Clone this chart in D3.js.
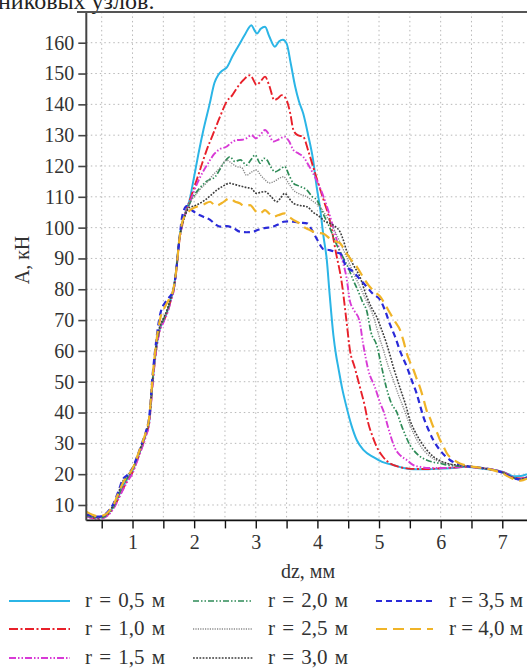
<!DOCTYPE html>
<html><head><meta charset="utf-8">
<script src="https://cdn.jsdelivr.net/npm/d3@7"></script>
<style>
html,body{margin:0;padding:0;background:#fff;overflow:hidden;}
svg{display:block;}
svg text{font-family:"Liberation Serif","Times New Roman","DejaVu Serif",serif !important;}
</style></head>
<body>
<svg id="c" width="527" height="671"></svg>
<script>
// ---------- data ----------
const xTicks = [0.5,1,1.5,2,2.5,3,3.5,4,4.5,5,5.5,6,6.5,7];
const xTickLabels = ["","1","","2","","3","","4","","5","","6","","7"];
const yTicks = [10,20,30,40,50,60,70,80,90,100,110,120,130,140,150,160];
const seriesNames = ["r = 0,5 м","r = 1,0 м","r = 1,5 м","r = 2,0 м","r = 2,5 м","r = 3,0 м","r = 3,5 м","r = 4,0 м"];

const r05 = [[0.25,6.8],[0.35,6.1],[0.45,5.9],[0.55,6.4],[0.62,7.6],[0.7,9.8],[0.78,13.2],[0.85,16.2],[0.92,18.6],[1.0,21.2],[1.08,25.2],[1.16,29.6],[1.22,33.2],[1.27,37],[1.33,51],[1.38,60.2],[1.43,66.2],[1.5,69.8],[1.57,73.2],[1.62,76.8],[1.67,80.5],[1.71,86.5],[1.76,96.5],[1.81,101.8],[1.86,105],[1.92,108.5],[1.99,115.5],[2.07,124],[2.15,131.7],[2.25,140],[2.33,147],[2.39,149.5],[2.46,151],[2.53,152],[2.62,155.5],[2.72,159],[2.82,162.5],[2.93,165.7],[2.98,164],[3.02,163],[3.08,164.5],[3.15,165.2],[3.22,162],[3.31,158.7],[3.38,160.5],[3.44,161],[3.5,159.8],[3.57,153],[3.64,145.7],[3.7,141],[3.77,137],[3.85,130],[3.93,122],[3.99,113],[4.04,106.8],[4.1,97],[4.15,90],[4.2,78],[4.26,65],[4.3,59],[4.34,54.5],[4.4,48],[4.47,42],[4.55,36],[4.64,31],[4.75,27.8],[4.91,25.5],[5.05,24],[5.23,23],[5.4,22],[5.56,21.6],[5.8,21.6],[6.0,21.8],[6.2,22],[6.4,22.4],[6.6,22.0],[6.85,21.4],[7.0,20.8],[7.1,20],[7.18,19.3],[7.3,19.4],[7.4,20]];
const r10 = [[0.25,6.5],[0.35,5.8],[0.45,5.6],[0.55,6.1],[0.62,7.2],[0.7,9.3],[0.78,12.6],[0.85,15.4],[0.92,18.0],[1.0,20.6],[1.08,24.8],[1.16,29.2],[1.22,32.8],[1.27,36.6],[1.33,50.5],[1.38,59.8],[1.43,65.8],[1.5,69.5],[1.57,72.8],[1.62,76.3],[1.67,80],[1.71,86],[1.76,96],[1.81,101.2],[1.86,104.8],[1.92,108.3],[2.0,113],[2.1,119],[2.2,125],[2.3,130],[2.42,136],[2.53,141],[2.62,143],[2.69,145.2],[2.8,147.9],[2.91,149.5],[2.96,148],[3.01,146.3],[3.08,147.5],[3.15,149],[3.22,146],[3.3,141.4],[3.36,142],[3.42,143],[3.5,141.4],[3.56,137],[3.61,131.7],[3.68,130],[3.77,129.5],[3.85,125],[3.93,119.8],[4.02,114],[4.1,109],[4.2,102.5],[4.3,92],[4.4,81.5],[4.47,70],[4.53,60],[4.6,55],[4.68,49],[4.77,42],[4.82,37],[4.9,32],[4.96,29],[5.07,25.5],[5.18,23.5],[5.3,22.5],[5.45,21.9],[5.6,21.7],[5.8,21.7],[6.0,21.9],[6.2,22.1],[6.4,22.4],[6.6,22.1],[6.85,21.4],[7.0,20.7],[7.1,19.8],[7.2,18.8],[7.3,18.6],[7.4,19.2]];
const r15 = [[0.25,6.4],[0.35,5.7],[0.45,5.5],[0.55,6.0],[0.62,7.0],[0.7,9.1],[0.78,12.3],[0.85,15.1],[0.92,17.7],[1.0,20.3],[1.08,24.5],[1.16,28.9],[1.22,32.5],[1.27,36.3],[1.33,50],[1.38,59.5],[1.43,65.5],[1.5,69.2],[1.57,72.6],[1.62,76],[1.67,79.8],[1.71,85.7],[1.76,95.7],[1.81,101],[1.86,104.6],[1.92,107.5],[2.0,112],[2.1,116.5],[2.23,121],[2.33,124],[2.42,125.5],[2.53,126.3],[2.6,127.5],[2.69,128.4],[2.78,128.5],[2.85,129],[2.93,130],[3.0,129],[3.07,130],[3.15,131.7],[3.22,130],[3.28,127.9],[3.36,128.5],[3.47,129.5],[3.54,128],[3.61,125.2],[3.7,124],[3.77,123],[3.85,120.5],[3.93,117.6],[4.02,114],[4.1,110],[4.2,104],[4.3,97],[4.38,91],[4.47,84],[4.53,76],[4.6,73],[4.68,70],[4.74,62.5],[4.83,53.5],[4.93,48.4],[5.02,43],[5.08,40],[5.15,35],[5.26,28.4],[5.35,26],[5.45,24.6],[5.55,23],[5.66,22.4],[5.8,22],[6.0,22],[6.2,22.2],[6.4,22.5],[6.6,22.1],[6.85,21.5],[7.0,20.7],[7.1,19.7],[7.2,18.7],[7.3,18.5],[7.4,19.1]];
const r20 = [[0.25,6.6],[0.35,6.0],[0.45,5.8],[0.55,6.3],[0.62,7.5],[0.7,9.7],[0.78,13.4],[0.85,16.8],[0.92,18.9],[1.0,21.3],[1.08,25.4],[1.16,29.8],[1.22,33.4],[1.27,37.3],[1.33,51.2],[1.38,60.5],[1.43,66.4],[1.5,70],[1.57,73.3],[1.62,76.8],[1.67,80.4],[1.71,86.3],[1.76,96.2],[1.81,101.4],[1.86,104.7],[1.92,107.5],[2.0,110.5],[2.1,113],[2.2,115],[2.34,116.5],[2.45,120],[2.52,122],[2.58,123],[2.66,121.5],[2.75,122],[2.85,120.3],[2.92,122],[2.99,123.6],[3.07,120.9],[3.13,122.5],[3.18,122],[3.25,119.5],[3.31,118.1],[3.4,119],[3.47,119.8],[3.54,117],[3.61,114.4],[3.7,113.5],[3.83,112.2],[3.92,110],[3.99,109],[4.08,105],[4.2,100],[4.3,95],[4.4,91],[4.5,87],[4.58,83],[4.66,79.5],[4.73,76],[4.8,73],[4.87,66],[4.96,62],[5.04,55],[5.12,48],[5.2,43],[5.29,40],[5.36,36],[5.42,33],[5.5,29.5],[5.56,27.8],[5.66,25.8],[5.77,24.6],[5.9,23.8],[5.99,23.5],[6.1,23],[6.3,22.6],[6.45,22.5],[6.6,22.1],[6.85,21.4],[7.0,20.6],[7.1,19.6],[7.2,18.7],[7.3,18.4],[7.4,19]];
const r25 = [[0.25,6.7],[0.35,6.2],[0.45,6.0],[0.55,6.6],[0.62,7.9],[0.7,10.2],[0.78,14.2],[0.85,17.6],[0.92,19.3],[1.0,21.6],[1.08,25.6],[1.16,30],[1.22,33.6],[1.27,37.6],[1.33,51.5],[1.38,60.8],[1.43,66.8],[1.5,70.3],[1.57,73.6],[1.62,77],[1.67,80.6],[1.71,86.5],[1.76,96.3],[1.81,101.5],[1.86,104.8],[1.92,108],[2.0,110],[2.1,112.5],[2.2,114.5],[2.3,117],[2.4,119],[2.53,121.9],[2.6,121],[2.69,119.8],[2.77,119.5],[2.85,117],[2.93,118],[3.01,118.7],[3.08,117],[3.15,115.5],[3.22,114.5],[3.3,115],[3.38,116],[3.45,116.5],[3.53,114.5],[3.61,112.2],[3.7,111],[3.83,110],[3.93,108.5],[4.04,106.8],[4.12,104.5],[4.2,102],[4.28,99],[4.35,96],[4.47,90.6],[4.58,85.5],[4.69,80.8],[4.8,76],[4.91,71.1],[4.99,65.5],[5.07,60.3],[5.15,55],[5.23,50.6],[5.31,46],[5.39,41.9],[5.47,37.5],[5.56,33.3],[5.66,29.5],[5.77,26.8],[5.88,25],[5.99,24],[6.15,23.3],[6.3,22.8],[6.45,22.6],[6.6,22.2],[6.85,21.4],[7.0,20.6],[7.1,19.6],[7.2,18.7],[7.3,18.4],[7.4,19.1]];
const r30 = [[0.25,6.9],[0.35,6.3],[0.45,6.1],[0.55,6.7],[0.62,8.0],[0.7,10.4],[0.78,14.5],[0.85,17.9],[0.92,19.5],[1.0,21.8],[1.08,25.8],[1.16,30.2],[1.22,33.8],[1.27,37.8],[1.33,51.8],[1.38,61],[1.43,67],[1.5,70.5],[1.57,73.8],[1.62,77.2],[1.67,80.8],[1.71,86.6],[1.76,96.2],[1.81,101.2],[1.86,104.3],[1.92,106.5],[2.0,107],[2.1,108],[2.18,109],[2.27,110.5],[2.37,112.2],[2.47,113.5],[2.58,114.4],[2.66,114],[2.75,113.5],[2.85,113],[2.93,112.7],[3.01,111.1],[3.08,111.5],[3.15,111.7],[3.25,110],[3.34,108.4],[3.4,109.5],[3.47,111.1],[3.54,109.5],[3.61,107.9],[3.72,107.2],[3.83,106.8],[3.93,105],[4.04,103.5],[4.12,102],[4.2,101.4],[4.28,100.5],[4.37,98.5],[4.42,96],[4.47,92.7],[4.58,88],[4.69,84],[4.8,77.6],[4.88,74],[4.96,71.1],[5.04,67],[5.12,62.5],[5.18,58.5],[5.23,54.9],[5.3,50.5],[5.37,46.2],[5.44,42],[5.5,37.6],[5.58,34],[5.66,31.1],[5.77,28],[5.88,25.7],[6.0,24.3],[6.1,23.5],[6.3,22.9],[6.45,22.6],[6.6,22.2],[6.85,21.4],[7.0,20.5],[7.1,19.5],[7.2,18.6],[7.3,18.3],[7.4,19]];
const r35 = [[0.25,7.0],[0.35,6.4],[0.45,6.2],[0.55,6.9],[0.62,8.3],[0.7,10.8],[0.78,15],[0.84,18.2],[0.92,19.8],[1.0,22],[1.08,26],[1.16,30.4],[1.22,34],[1.27,38.5],[1.33,53],[1.38,62.5],[1.45,72],[1.54,76],[1.6,77.5],[1.66,79.5],[1.71,86.3],[1.76,96],[1.81,104],[1.88,107],[1.94,106],[2.04,104.6],[2.15,103.5],[2.26,102.5],[2.35,101],[2.42,100.3],[2.53,100.5],[2.64,99.8],[2.74,98.7],[2.85,98.5],[2.96,98.7],[3.04,99.3],[3.12,99.8],[3.2,100],[3.28,100.3],[3.36,101],[3.45,101.9],[3.53,102],[3.61,101.9],[3.72,101.6],[3.83,101.4],[3.93,98.5],[4.0,96],[4.1,93],[4.2,92.7],[4.3,92],[4.38,91.5],[4.45,88],[4.58,85.7],[4.68,83.5],[4.8,80.8],[4.9,78.5],[5.02,76.5],[5.1,73],[5.18,68.5],[5.26,64.6],[5.35,59.5],[5.45,54.9],[5.53,50.5],[5.61,46.2],[5.67,42],[5.72,38.6],[5.8,34.5],[5.88,31.1],[6.0,27.5],[6.15,24.6],[6.3,23.2],[6.42,22.6],[6.6,22.2],[6.85,21.4],[7.0,20.5],[7.1,19.5],[7.2,18.6],[7.3,18.2],[7.4,18.9]];
const r40 = [[0.25,7.8],[0.35,6.8],[0.45,6.3],[0.55,6.8],[0.62,8.0],[0.7,10.4],[0.78,14.3],[0.85,17.4],[0.92,19.4],[1.0,21.8],[1.08,25.9],[1.16,30.3],[1.22,33.9],[1.27,38.2],[1.33,52.5],[1.38,62],[1.45,70.5],[1.54,74.8],[1.6,77],[1.66,79.8],[1.71,86.2],[1.76,96],[1.81,102],[1.88,104.5],[1.96,106],[2.04,106.8],[2.15,107.5],[2.26,108.4],[2.35,107],[2.45,108],[2.58,109.5],[2.66,108.5],[2.74,107.9],[2.82,107],[2.91,107.3],[2.97,106],[3.04,104.6],[3.1,105],[3.15,105.7],[3.22,104.5],[3.28,103.5],[3.36,104],[3.47,104.6],[3.54,103.5],[3.61,102.5],[3.7,101.5],[3.77,100.3],[3.85,99.5],[3.93,98.7],[4.02,98.3],[4.1,98],[4.2,96.5],[4.3,95.5],[4.37,94.9],[4.42,93.5],[4.47,91.7],[4.55,89.5],[4.64,87.3],[4.74,84],[4.85,80.8],[4.94,79],[5.02,77.6],[5.1,75],[5.18,72.2],[5.26,69.5],[5.34,66.8],[5.4,63],[5.45,59.2],[5.5,56.5],[5.56,53.8],[5.61,51],[5.66,48.4],[5.72,44.5],[5.77,40.8],[5.83,38],[5.88,35.4],[5.94,33.5],[5.99,31.1],[6.05,28.8],[6.1,26.8],[6.2,24.8],[6.31,23.5],[6.42,22.8],[6.6,22.2],[6.85,21.3],[7.0,20.3],[7.1,19.2],[7.2,18.3],[7.3,17.9],[7.4,18.6]];

const seriesData = [r05,r10,r15,r20,r25,r30,r35,r40];
const seriesColors = ["#2bb5e6","#e8202a","#d83ad6","#2e8b57","#8a8a8a","#3c3c3c","#2a2ad8","#f0b428"];
const seriesDash = ["none","9,2.5,2,2.5","7,2,1.5,2,1.5,2","6,2,1.5,2,1.5,2","1.2,1.2","1.8,1.4","6,4","11,6"];
const seriesWidth = [2,1.9,1.9,1.7,1.4,1.6,2.2,2.2];

const FONT = "'Liberation Serif','Times New Roman','DejaVu Serif',serif";

// ---------- layout ----------
const svg = d3.select("#c");
const x = d3.scaleLinear().domain([0.25,7.5]).range([86.3,533.1]);
const y = d3.scaleLinear().domain([5,170]).range([520.4,11.9]);

// top text (cropped line of the document above)
svg.append("text").attr("x",-2).attr("y",9).attr("font-size",24).attr("font-family",FONT).attr("fill","#222").text("никовых узлов.");

// grid
const grid = svg.append("g");
grid.selectAll("line.v").data(xTicks).join("line")
  .attr("x1",d=>x(d)).attr("x2",d=>x(d)).attr("y1",y(170)).attr("y2",y(5))
  .attr("stroke","#b8b8b8").attr("stroke-width",1).attr("stroke-dasharray","1.5,3");
grid.selectAll("line.h").data(yTicks).join("line")
  .attr("x1",x(0.25)).attr("x2",527).attr("y1",d=>y(d)).attr("y2",d=>y(d))
  .attr("stroke","#b8b8b8").attr("stroke-width",1).attr("stroke-dasharray","1.5,3");

// clip
svg.append("clipPath").attr("id","clip").append("rect")
  .attr("x",x(0.25)).attr("y",y(170)).attr("width",527-x(0.25)).attr("height",y(5)-y(170));

const line = d3.line().x(d=>x(d[0])).y(d=>y(d[1])).curve(d3.curveMonotoneX);
const plot = svg.append("g").attr("clip-path","url(#clip)");
seriesData.forEach((s,i)=>{
  plot.append("path").datum(s).attr("d",line).attr("fill","none")
    .attr("stroke",seriesColors[i]).attr("stroke-width",seriesWidth[i])
    .attr("stroke-dasharray",seriesDash[i]).attr("stroke-linejoin","round");
});

// axes
const xAxis = d3.axisBottom(x).tickValues(xTicks).tickFormat((d,i)=>xTickLabels[i]).tickSize(8).tickPadding(6);
const gx = svg.append("g").attr("transform",`translate(0,${y(5)})`).call(xAxis).attr("font-family",FONT);
gx.select(".domain").remove();
gx.append("line").attr("x1",x(0.25)).attr("x2",527).attr("stroke","#111").attr("stroke-width",1.6);
gx.selectAll(".tick line").attr("stroke","#111").attr("stroke-width",1.4);
gx.selectAll(".tick text").attr("font-size",20).attr("fill","#333").attr("font-family",FONT);

const yAxis = d3.axisLeft(y).tickValues(yTicks).tickSize(8).tickPadding(4);
const gy = svg.append("g").attr("transform",`translate(${x(0.25)},0)`).call(yAxis).attr("font-family",FONT);
gy.select(".domain").remove();
gy.append("line").attr("y1",y(170)).attr("y2",y(5)).attr("stroke","#444").attr("stroke-width",2);
gy.selectAll(".tick line").attr("stroke","#444").attr("stroke-width",1.6);
gy.selectAll(".tick text").attr("font-size",20).attr("fill","#333").attr("font-family",FONT);

// top border line
svg.append("line").attr("x1",77).attr("x2",527).attr("y1",y(170)).attr("y2",y(170))
  .attr("stroke","#555").attr("stroke-width",2);

// axis titles
svg.append("text").attr("x",308).attr("y",578).attr("text-anchor","middle").attr("font-family",FONT)
  .attr("font-size",20).attr("fill","#333").text("dz, мм");
svg.append("text").attr("transform","translate(29,260) rotate(-90)").attr("text-anchor","middle").attr("font-family",FONT)
  .attr("font-size",20).attr("fill","#333").text("А, кН");

// legend
const legCols = [[9,70,85],[193,253,268],[376,433,449]];
const legRows = [601,629,658];
const legPos = [[0,0],[0,1],[0,2],[1,0],[1,1],[1,2],[2,0],[2,1]];
seriesNames.forEach((name,i)=>{
  const col = legPos[i][0];
  const c = legCols[col], r = legRows[legPos[i][1]];
  svg.append("line").attr("x1",c[0]).attr("x2",c[1]).attr("y1",r).attr("y2",r)
    .attr("stroke",seriesColors[i]).attr("stroke-width",seriesWidth[i])
    .attr("stroke-dasharray",seriesDash[i]);
  svg.append("text").attr("x",c[2]).attr("y",r+6).attr("font-size",21).attr("font-family",FONT)
    .attr("fill","#333").attr("word-spacing",col===2?0:2).text(name);
});
</script>
</body></html>
